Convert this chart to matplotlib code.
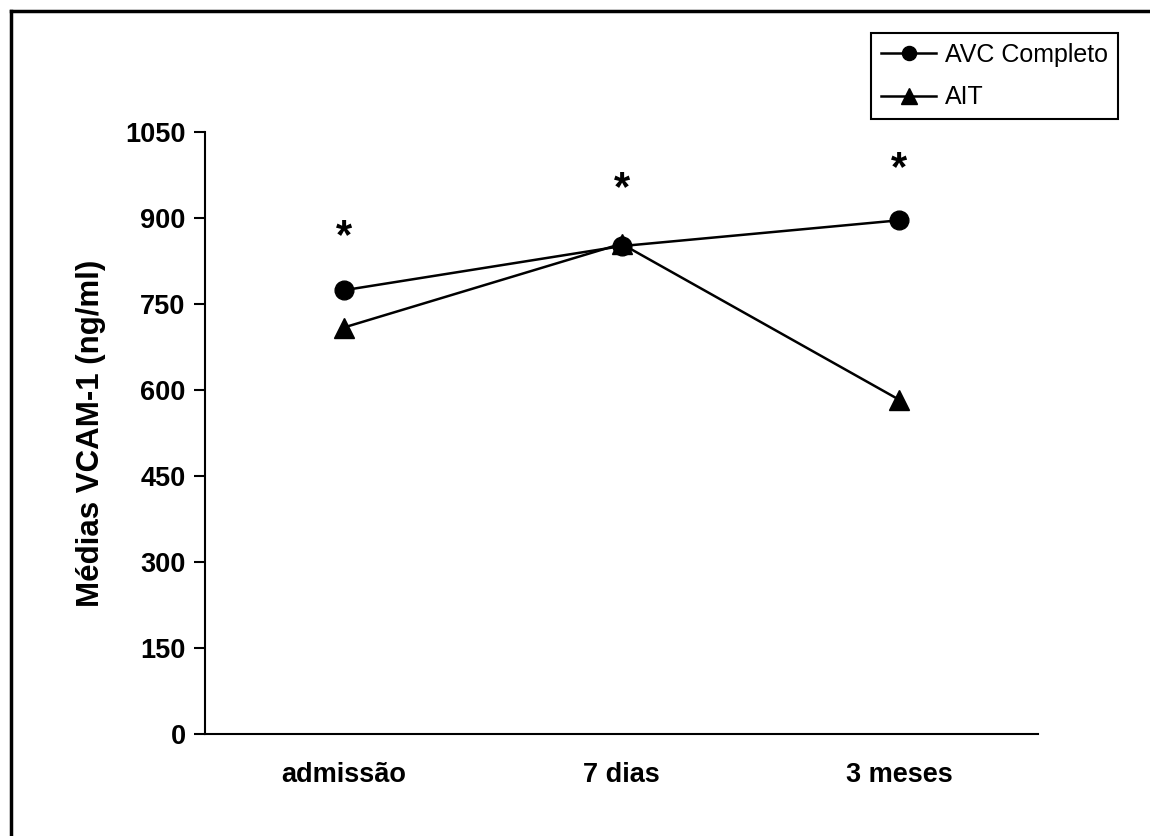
import numpy as np
import matplotlib.pyplot as plt
from matplotlib.lines import Line2D

plt.rcParams['font.family'] = ['Liberation Sans', 'DejaVu Sans']

# data
categories = ['admissão', '7 dias', '3 meses']
avc = [774, 851, 896]
ait = [709, 855, 583]
star_y = [866, 951, 985]
yticks = [0, 150, 300, 450, 600, 750, 900, 1050]

fig = plt.figure(figsize=(11.5, 8.36), dpi=100)
ax = fig.add_axes([205 / 1150, 1 - 734 / 836, (1038 - 205) / 1150, (734 - 132) / 836])

x = np.arange(len(categories))
ax.plot(x, avc, color='black', lw=1.8, marker='o', ms=13.5, label='AVC Completo')
ax.plot(x, ait, color='black', lw=1.8, marker='^', ms=15, label='AIT')

for xi, yi in zip(x, star_y):
    ax.text(xi, yi, '*', ha='center', va='center', fontsize=30, fontweight='bold')

ax.set_xlim(-0.5, 2.5)
ax.set_ylim(0, 1050)
ax.set_yticks(yticks)
ax.set_xticks(x)
ax.set_xticklabels(categories)
ax.tick_params(axis='x', length=0, pad=20, labelsize=19.5)
ax.tick_params(axis='y', direction='out', length=8, width=1.5, pad=6, labelsize=19.5)
for lab in ax.get_xticklabels() + ax.get_yticklabels():
    lab.set_fontweight('bold')

ax.spines['top'].set_visible(False)
ax.spines['right'].set_visible(False)
ax.spines['left'].set_linewidth(1.5)
ax.spines['bottom'].set_linewidth(1.5)

ax.set_ylabel('Médias VCAM-1 (ng/ml)', fontsize=22.5, fontweight='bold', labelpad=14)

leg = fig.legend(loc='upper right', bbox_to_anchor=(1118 / 1150, 1 - 33 / 836),
                 borderaxespad=0, fontsize=18, fancybox=False, edgecolor='black',
                 framealpha=1, markerscale=0.75, handlelength=2.2, handletextpad=0.35,
                 borderpad=0.4, labelspacing=0.73)
leg.get_frame().set_linewidth(1.5)

# outer frame (top and left edges visible)
fig.add_artist(Line2D([11 / 1150, 1], [1 - 11 / 836, 1 - 11 / 836], color='black', lw=2.5))
fig.add_artist(Line2D([11 / 1150, 11 / 1150], [0, 1 - 11 / 836], color='black', lw=2.5))

fig.savefig('out.png', dpi=100)
